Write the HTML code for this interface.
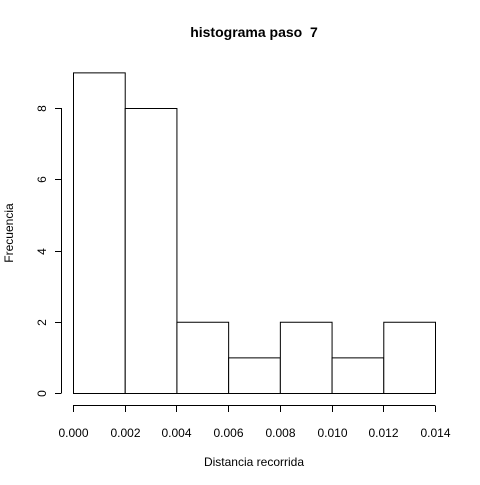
<!DOCTYPE html>
<html><head><meta charset="utf-8"><style>
body{margin:0;background:#fff}
svg text{font-family:"Liberation Sans",Arial,sans-serif;fill:#000}
</style></head><body>
<svg id="chart" width="480" height="480" xmlns="http://www.w3.org/2000/svg">
<rect width="480" height="480" fill="#fff"/>
<text x="254" y="37" text-anchor="middle" font-size="14" font-weight="bold">histograma paso&#160; 7</text>
<text x="254" y="466" text-anchor="middle" font-size="12">Distancia recorrida</text>
<text transform="translate(13,233) rotate(-90)" text-anchor="middle" font-size="12">Frecuencia</text>
<g id="bars"></g><g id="xaxis"></g><g id="yaxis"></g>
</svg>
<script>
const binEdges=[0,0.002,0.004,0.006,0.008,0.010,0.012,0.014];
const counts=[9,8,2,1,2,1,2];
const xTicks=[0,0.002,0.004,0.006,0.008,0.010,0.012,0.014];
const xTickLabels=["0.000","0.002","0.004","0.006","0.008","0.010","0.012","0.014"];
const yTicks=[0,2,4,6,8];
const NS="http://www.w3.org/2000/svg";
const xs=v=>73+(v-0)/0.014*(435-73);
const ys=v=>393-v*(393-108)/8;
function mk(t,a,p){const e=document.createElementNS(NS,t);for(const k in a)e.setAttribute(k,a[k]);p.appendChild(e);return e;}
const bars=document.getElementById('bars');
counts.forEach((c,i)=>{
 const r=mk('rect',{x:xs(binEdges[i])+0.5,y:ys(c)+0.5,width:xs(binEdges[i+1])-xs(binEdges[i]),height:ys(0)-ys(c),fill:'#fff',stroke:'#000','stroke-width':1},bars);
 
 
});
const xa=document.getElementById('xaxis');


mk('line',{x1:xs(xTicks[0]),x2:xs(xTicks[xTicks.length-1]),y1:405.5,y2:405.5,stroke:'#000'},xa);
xTicks.forEach((v,i)=>{
 const x=Math.round(xs(v))+0.5;
 mk('line',{x1:x,x2:x,y1:405.5,y2:412,stroke:'#000'},xa);
 const t=mk('text',{x:x,y:437,'text-anchor':'middle','font-size':12},xa);t.textContent=xTickLabels[i];
 
 
});
const ya=document.getElementById('yaxis');


mk('line',{x1:61.5,x2:61.5,y1:ys(yTicks[0]),y2:ys(yTicks[yTicks.length-1]),stroke:'#000'},ya);
yTicks.forEach(v=>{
 const y=Math.round(ys(v))+0.5;
 mk('line',{x1:55,x2:61.5,y1:y,y2:y,stroke:'#000'},ya);
 const t=mk('text',{transform:`translate(46,${y}) rotate(-90)`,'text-anchor':'middle','font-size':12},ya);t.textContent=v;
 
 
});
</script>
</body></html>
